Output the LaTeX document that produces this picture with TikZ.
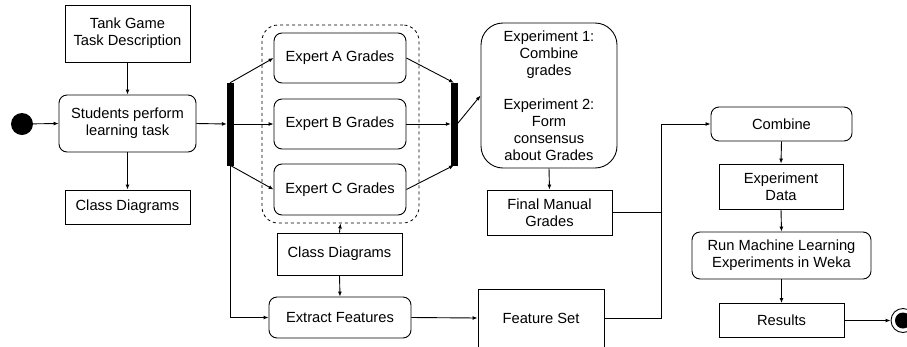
\documentclass[tikz,border=0pt]{standalone}
\usepackage{fontspec}
\setmainfont{Liberation Sans}
\usetikzlibrary{arrows.meta}
\begin{document}
\begin{tikzpicture}[x=1pt,y=-1pt,
  every node/.style={font=\fontsize{14.7}{17}\selectfont, align=center, inner sep=0pt},
  rbox/.style={draw, line width=0.9pt},
  rrbox/.style={draw, line width=0.9pt, rounded corners=8pt},
  barnode/.style={fill=black, draw=black, minimum width=6pt, minimum height=82pt},
  conn/.style={line width=0.9pt},
  arr/.style={conn, -{Latex[length=5pt,width=4pt]}}]
\useasboundingbox (0,0) rectangle (907,346);
\clip (0,0) rectangle (907,346);

\node[circle, fill=black, minimum size=22pt] (start) at (22,124) {};
\node[rbox, minimum width=125pt, minimum height=57pt] (tank) at (127.5,33.5) {Tank Game\\Task Description};
\node[rrbox, minimum width=137pt, minimum height=57pt] (stud) at (127.5,123.5) {Students perform\\learning task};
\node[rbox, minimum width=125pt, minimum height=34pt] (cd1) at (127.5,207) {Class Diagrams};

\node[barnode] (bar1) at (230,124) {};
\node[draw, dashed, line width=0.8pt, rounded corners=16pt, minimum width=157pt, minimum height=198pt] (grp) at (340.5,124) {};
\node[rrbox, minimum width=132pt, minimum height=50pt] (expA) at (340,58) {Expert A Grades};
\node[rrbox, minimum width=132pt, minimum height=50pt] (expB) at (340,124) {Expert B Grades};
\node[rrbox, minimum width=132pt, minimum height=51pt] (expC) at (340,189.5) {Expert C Grades};
\node[barnode] (bar2) at (454,124) {};

\node[rrbox, rounded corners=22pt, minimum width=136pt, minimum height=145pt] (exper) at (549,95.5) {Experiment 1:\\Combine\\grades\\[17pt]Experiment 2:\\Form\\consensus\\about Grades};
\node[rbox, minimum width=125pt, minimum height=45pt] (fmg) at (549.5,212.5) {Final Manual\\Grades};

\node[rbox, minimum width=125pt, minimum height=42pt] (cd2) at (339.5,254) {Class Diagrams};
\node[rrbox, minimum width=142pt, minimum height=41pt] (extr) at (340,317.5) {Extract Features};
\node[rbox, minimum width=126pt, minimum height=58pt] (fs) at (541,318) {Feature Set};

\node[rrbox, minimum width=141pt, minimum height=34pt] (comb) at (781.5,124) {Combine};
\node[rbox, minimum width=124pt, minimum height=45pt] (edata) at (781,186.5) {Experiment\\Data};
\node[rrbox, minimum width=179pt, minimum height=47pt] (run) at (781.5,255.5) {Run Machine Learning\\Experiments in Weka};
\node[rbox, minimum width=125pt, minimum height=34pt] (res) at (781.5,320.5) {Results};

\node[circle, draw, line width=0.9pt, minimum size=24pt] (end) at (903,320.5) {};
\node[circle, fill=black, minimum size=16pt] (endin) at (903,320.5) {};

\coordinate (j) at (661,124);

\draw[arr] (start) -- (stud.west);
\draw[arr] (tank.south) -- (stud.north);
\draw[arr] (stud.south) -- (cd1.north);
\draw[arr] (stud.east) -- (bar1.west);
\draw[arr] (bar1.north) -- (expA.west);
\draw[arr] (bar1.east) -- (expB.west);
\draw[arr] (bar1.south) -- (expC.west);
\draw[arr] (expA.east) -- (bar2.north);
\draw[arr] (expB.east) -- (bar2.west);
\draw[arr] (expC.east) -- (bar2.south);
\draw[arr] (bar2.east) -- (exper.west);
\draw[arr] (exper.south) -- (fmg.north);
\draw[conn] (fmg.east) -| (j);
\draw[arr] (j) -- (comb.west);
\draw[conn] (fs.east) -| (j);
\draw[arr] (cd2.north) -- (grp.south);
\draw[arr] (cd2.south) -- (extr.north);
\draw[arr] (bar1.south) |- (extr.west);
\draw[arr] (extr.east) -- (fs.west);
\draw[arr] (comb.south) -- (edata.north);
\draw[arr] (edata.south) -- (run.north);
\draw[arr] (run.south) -- (res.north);
\draw[arr] (res.east) -- (end.west);
\end{tikzpicture}
\end{document}
